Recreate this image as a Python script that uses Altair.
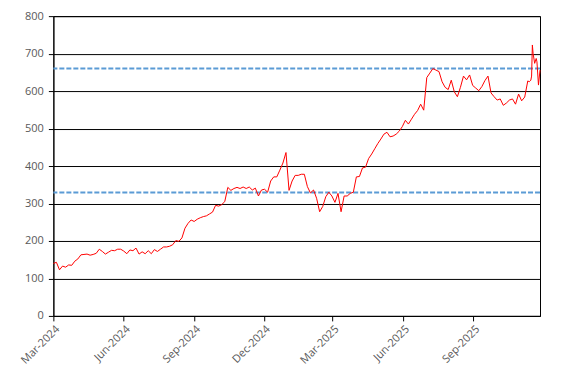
import altair as alt
import pandas as pd

start_date = "2024-03-01"
end_date = "2025-11-27"
day_offsets = list(range(0, 621, 4)) + [622, 624, 625, 626, 627, 629, 631, 632, 634, 636]
values = [
    140, 143, 123, 133, 130, 136, 135, 146, 152, 163,
    164, 165, 162, 164, 167, 178, 172, 165, 170, 175,
    174, 178, 178, 173, 166, 176, 174, 181, 165, 171,
    166, 174, 166, 177, 172, 178, 184, 184, 186, 190,
    201, 199, 208, 234, 247, 256, 252, 258, 262, 265,
    267, 272, 277, 295, 293, 297, 305, 343, 335, 340,
    343, 340, 344, 340, 344, 336, 341, 320, 336, 338,
    330, 360, 371, 371, 389, 408, 436, 335, 360, 375,
    375, 378, 378, 345, 328, 336, 314, 278, 292, 318,
    330, 320, 303, 327, 278, 320, 320, 327, 330, 371,
    372, 395, 397, 420, 432, 446, 460, 472, 485, 490,
    478, 480, 485, 493, 505, 522, 512, 525, 538, 548,
    565, 549, 636, 648, 660, 656, 652, 625, 610, 604,
    629, 598, 585, 610, 640, 630, 643, 615, 608, 601,
    612, 628, 640, 595, 585, 576, 579, 562, 568, 576,
    579, 565, 592, 574, 584, 627,
    625, 629, 640, 723, 700, 674, 687, 678, 616, 656,
]
reference_levels = [660, 329]
tick_months = [(2024, 3), (2024, 6), (2024, 9), (2024, 12), (2025, 3), (2025, 6), (2025, 9)]
y_ticks = [0, 100, 200, 300, 400, 500, 600, 700, 800]

dates = pd.Timestamp(start_date) + pd.to_timedelta(day_offsets, unit="D")
df = pd.DataFrame({"date": dates, "value": values})
levels_df = pd.DataFrame({"level": reference_levels})

s = pd.Timestamp(start_date)
e = pd.Timestamp(end_date)
x_scale = alt.Scale(
    domain=[alt.DateTime(year=s.year, month=s.month, date=s.day),
            alt.DateTime(year=e.year, month=e.month, date=e.day)],
    nice=False,
)
y_scale = alt.Scale(domain=[0, 800], nice=False)

x_axis = alt.Axis(
    values=[alt.DateTime(year=yy, month=mm, date=1) for yy, mm in tick_months],
    format="%b-%Y", labelAngle=-45, grid=False, tickSize=5, title=None,
    labelPadding=2, labelOverlap=False,
)
y_axis = alt.Axis(values=y_ticks, grid=True, gridColor="black", gridWidth=1,
                  tickSize=5, labelPadding=5, title=None, labelOverlap=False)

line = alt.Chart(df).mark_line(color="#ff0000", strokeWidth=1).encode(
    x=alt.X("date:T", scale=x_scale, axis=x_axis),
    y=alt.Y("value:Q", scale=y_scale, axis=y_axis),
)

rules = alt.Chart(levels_df).mark_rule(color="#5b9bd5", strokeWidth=2, strokeDash=[5, 2]).encode(
    y=alt.Y("level:Q", scale=y_scale, axis=y_axis),
)

chart = (rules + line).properties(
    width=487, height=300,
    autosize=alt.AutoSizeParams(type="none"),
    padding={"left": 45.4, "top": 8, "right": 19, "bottom": 55},
).configure_view(stroke="black", strokeWidth=1).configure_axis(
    labelFont="Open Sans", labelFontSize=11, labelColor="#595959",
    domainColor="black", tickColor="black", domainWidth=1, tickWidth=1,
)

chart.save("out.html", embed_options={"renderer": "svg", "actions": False})
